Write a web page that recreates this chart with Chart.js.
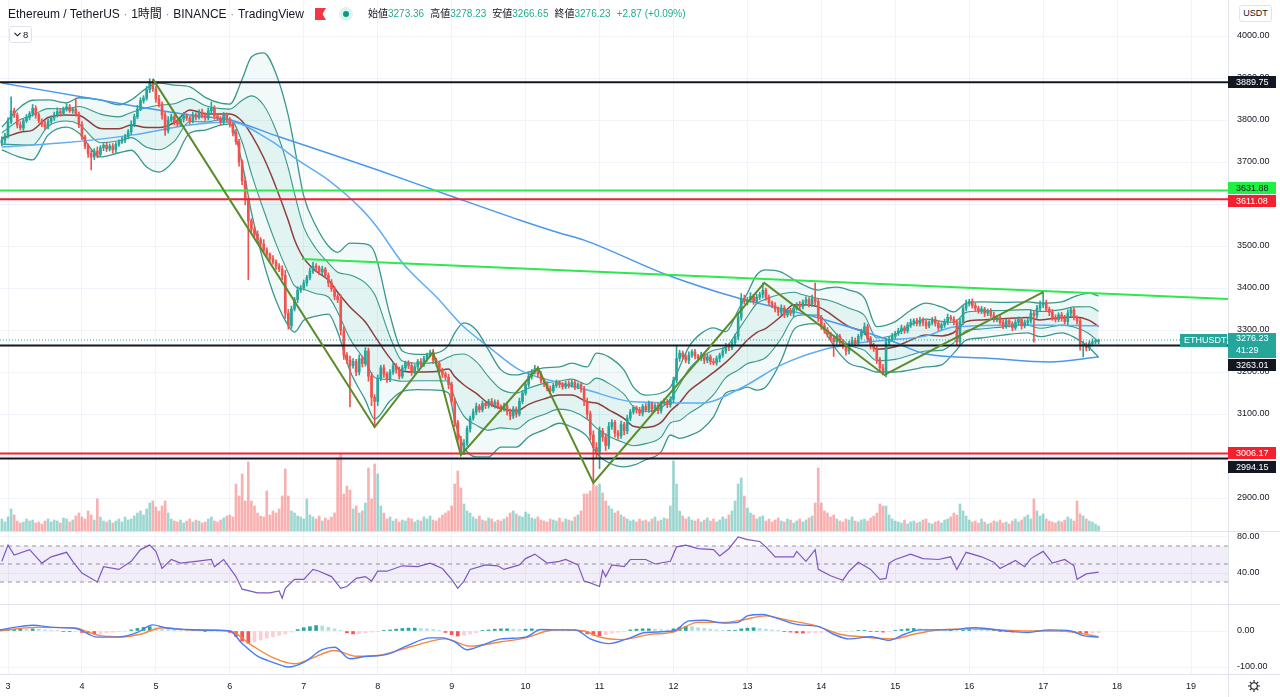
<!DOCTYPE html>
<html lang="ja">
<head>
<meta charset="utf-8">
<title>Ethereum / TetherUS 1時間</title>
<script src="https://cdn.jsdelivr.net/npm/chart.js@4.4.1/dist/chart.umd.min.js"></script>
<style>
  html, body { margin: 0; padding: 0; background: #fff; }
  body { width: 1280px; height: 697px; position: relative; overflow: hidden; color: #131722;
         font-family: "Liberation Sans", Arial, "Noto Sans CJK JP", sans-serif; }
  canvas { position: absolute; left: 0; }
  #main { top: 0; }
  #rsi { top: 532px; }
  #macd { top: 605px; }
  .sep { position: absolute; left: 0; width: 1280px; height: 1px; background: #e0e3eb; }
  .vsep { position: absolute; left: 1228px; top: 674px; width: 1px; height: 23px; background: #e0e3eb; }
  .title { position: absolute; left: 8px; top: 6px; font-size: 12px; line-height: 16px; white-space: nowrap; }
  .title .dot { color: #787b86; margin: 0 4px; font-size: 10px; }
  .flag { position: absolute; left: 315px; top: 8px; }
  .live { position: absolute; left: 338px; top: 6px; }
  .ohlc { position: absolute; left: 368px; top: 8px; font-size: 10px; line-height: 12px; white-space: nowrap; }
  .ohlc span { margin-right: 6px; }
  .ohlc b { font-weight: normal; color: #22ab94; }
  .ind { position: absolute; left: 9px; top: 26px; width: 21px; height: 15px; border: 1px solid #e0e3eb;
         border-radius: 3px; font-size: 9.5px; line-height: 15px; background: #fff; }
  .ind svg { position: absolute; left: 4px; top: 5px; }
  .ind i { position: absolute; left: 13px; top: 0; font-style: normal; }
  .cur { position: absolute; left: 1239px; top: 5px; width: 31px; height: 15px; border: 1px solid #e0e3eb;
         border-radius: 3px; font-size: 9px; line-height: 15px; text-align: center; background: #fff; }
  .gear { position: absolute; left: 1247px; top: 679px; }
</style>
</head>
<body>
<canvas id="main" width="1280" height="531"></canvas>
<canvas id="rsi" width="1280" height="72"></canvas>
<canvas id="macd" width="1280" height="92"></canvas>
<div class="sep" style="top:531px"></div>
<div class="sep" style="top:604px"></div>
<div class="sep" style="top:674px"></div>
<div class="vsep"></div>

<div class="title">Ethereum / TetherUS<span class="dot">·</span>1時間<span class="dot">·</span>BINANCE<span class="dot">·</span>TradingView</div>
<svg class="flag" width="11" height="12" viewBox="0 0 11 12"><path d="M0 0H11L7.5 6L11 12H0Z" fill="#f23645"/></svg>
<svg class="live" width="16" height="16" viewBox="0 0 16 16"><circle cx="8" cy="8" r="7" fill="#dff2ef"/><circle cx="8" cy="8" r="3" fill="#089981"/></svg>
<div class="ohlc"><span>始値<b>3273.36</b></span><span>高値<b>3278.23</b></span><span>安値<b>3266.65</b></span><span>終値<b>3276.23</b></span><b>+2.87 (+0.09%)</b></div>
<div class="ind"><svg width="7" height="5" viewBox="0 0 7 5"><path d="M0.5 0.8L3.5 3.8L6.5 0.8" stroke="#131722" stroke-width="1.1" fill="none"/></svg><i>8</i></div>
<div class="cur">USDT</div>
<svg class="gear" width="14" height="14" viewBox="0 0 14 14"><circle cx="7" cy="7" r="3.3" fill="none" stroke="#131722" stroke-width="1.1"/><path d="M7 1v2.2M7 10.8V13M1 7h2.2M10.8 7H13M2.8 2.8l1.5 1.5M9.7 9.7l1.5 1.5M2.8 11.2l1.5-1.5M9.7 4.3l1.5-1.5" stroke="#131722" stroke-width="1.1"/></svg>

<script>
// hourly candles, hour 0 = day 3 00:00
const firstHour = -2;
const firstOpen = 3745;
const closes = [
  3752, 3762,
  3795, 3822, 3812, 3788, 3781, 3798, 3806, 3815, 3828, 3812, 3798, 3790, 3784, 3796, 3805, 3812, 3820, 3816, 3826, 3831, 3822, 3826, 3814, 3790,
  3760, 3738, 3720, 3712, 3726, 3718, 3734, 3740, 3731, 3738, 3729, 3742, 3748, 3752, 3760, 3772, 3790, 3808, 3826, 3846, 3852, 3872, 3888, 3874,
  3850, 3838, 3812, 3775, 3800, 3808, 3796, 3790, 3802, 3810, 3805, 3798, 3812, 3806, 3818, 3812, 3805, 3822, 3828, 3810, 3804, 3796, 3812, 3800,
  3790, 3770, 3748, 3700, 3655, 3610, 3560, 3540, 3528, 3515, 3505, 3490, 3480, 3470, 3462, 3452, 3445, 3430, 3340, 3310, 3350, 3372, 3395, 3400,
  3412, 3425, 3440, 3452, 3448, 3438, 3445, 3430, 3412, 3398, 3380, 3372, 3300, 3240, 3228, 3215, 3225, 3200, 3232, 3220, 3250, 3190, 3140, 3130,
  3185, 3210, 3195, 3182, 3200, 3215, 3205, 3190, 3210, 3222, 3215, 3200, 3212, 3225, 3218, 3232, 3240, 3246, 3228, 3220, 3205, 3195, 3188, 3170,
  3130, 3080, 3040, 3010, 3030, 3065, 3090, 3105, 3118, 3110, 3125, 3120, 3130, 3122, 3128, 3118, 3112, 3120, 3105, 3095, 3112, 3100, 3130, 3150,
  3170, 3190, 3200, 3208, 3195, 3180, 3172, 3160, 3155, 3168, 3175, 3170, 3165, 3172, 3168, 3175, 3165, 3170, 3160, 3130, 3100, 3050, 3020, 3010,
  3060, 3045, 3025, 3070, 3080, 3055, 3048, 3075, 3060, 3090, 3105, 3115, 3110, 3102, 3118, 3110, 3125, 3112, 3120, 3108, 3126, 3130, 3122, 3135,
  3180, 3232, 3245, 3236, 3228, 3240, 3248, 3238, 3232, 3240, 3228, 3236, 3225, 3222, 3232, 3240, 3250, 3262, 3258, 3270, 3285, 3330, 3375, 3368,
  3372, 3380, 3368, 3378, 3384, 3395, 3378, 3365, 3358, 3350, 3342, 3352, 3336, 3345, 3340, 3352, 3360, 3356, 3366, 3372, 3362, 3375, 3368, 3330,
  3310, 3300, 3290, 3280, 3272, 3285, 3270, 3262, 3250, 3268, 3275, 3270, 3285, 3295, 3308, 3280, 3262, 3255, 3230, 3210, 3200, 3270, 3278, 3285,
  3292, 3298, 3305, 3298, 3312, 3318, 3322, 3315, 3324, 3318, 3310, 3318, 3325, 3316, 3305, 3312, 3320, 3330, 3326, 3318, 3272, 3320, 3352, 3362,
  3368, 3358, 3352, 3345, 3350, 3340, 3345, 3335, 3326, 3330, 3318, 3310, 3322, 3315, 3305, 3318, 3325, 3310, 3318, 3322, 3340, 3335, 3352, 3360,
  3365, 3350, 3342, 3330, 3325, 3336, 3328, 3320, 3340, 3348, 3330, 3322, 3262, 3265, 3258, 3268, 3272, 3273.36, 3276.23
];
// wick length above the body / below the body
const wickUp = [
  8, 6,
  10, 33, 6, 5, 8, 4, 7, 5, 9, 6, 4, 5, 8, 6, 5, 7, 9, 6, 5, 8, 6, 4, 26, 5,
  6, 4, 5, 8, 6, 10, 5, 4, 7, 5, 6, 4, 5, 7, 6, 5, 8, 6, 9, 7, 6, 8, 10, 8,
  6, 9, 5, 7, 8, 6, 4, 5, 6, 8, 5, 4, 7, 5, 6, 8, 5, 7, 15, 6, 5, 4, 6, 5,
  6, 4, 8, 6, 5, 9, 7, 5, 6, 8, 5, 10, 6, 4, 7, 5, 6, 8, 12, 9, 7, 6, 8, 6,
  7, 5, 8, 10, 6, 5, 7, 4, 6, 8, 5, 6, 12, 8, 6, 10, 7, 5, 9, 6, 8, 7, 9, 6,
  8, 6, 7, 5, 6, 8, 5, 7, 6, 4, 5, 8, 6, 5, 7, 6, 5, 6, 8, 5, 6, 4, 5, 7,
  6, 8, 5, 7, 9, 6, 5, 7, 8, 5, 6, 4, 5, 7, 6, 5, 4, 6, 5, 7, 6, 5, 8, 6,
  5, 7, 6, 8, 5, 6, 4, 5, 7, 5, 6, 4, 5, 6, 7, 5, 6, 4, 5, 6, 8, 7, 10, 12,
  9, 6, 8, 10, 7, 5, 6, 8, 5, 7, 6, 5, 4, 6, 5, 7, 6, 4, 5, 6, 5, 7, 5, 6,
  8, 32, 7, 5, 6, 8, 5, 6, 4, 7, 5, 6, 5, 7, 6, 5, 8, 6, 5, 7, 6, 10, 12, 8,
  6, 9, 5, 7, 6, 17, 5, 6, 4, 7, 5, 8, 6, 5, 7, 6, 5, 8, 6, 7, 5, 8, 37, 6,
  5, 7, 6, 5, 8, 6, 5, 7, 6, 5, 8, 6, 5, 7, 9, 6, 5, 7, 6, 5, 8, 10, 6, 7,
  5, 6, 7, 5, 6, 8, 5, 6, 7, 5, 6, 4, 5, 7, 6, 5, 6, 8, 5, 6, 7, 8, 6, 9,
  5, 6, 7, 5, 6, 4, 5, 6, 7, 5, 6, 5, 4, 6, 5, 7, 6, 5, 6, 7, 8, 6, 7, 9,
  25, 6, 5, 7, 6, 5, 6, 7, 8, 6, 5, 4, 6, 8, 5, 6, 7, 5, 2
];
const wickDown = [
  6, 8,
  5, 4, 6, 7, 5, 6, 4, 5, 6, 8, 5, 6, 7, 5, 4, 6, 5, 7, 6, 5, 4, 6, 5, 8,
  7, 6, 9, 31, 6, 8, 5, 7, 6, 5, 8, 6, 5, 4, 6, 5, 7, 6, 5, 4, 6, 5, 7, 6,
  8, 7, 10, 12, 6, 5, 8, 6, 5, 7, 6, 8, 5, 6, 4, 7, 6, 5, 6, 8, 5, 7, 6, 5,
  7, 8, 6, 10, 9, 12, 140, 8, 7, 6, 9, 5, 7, 6, 5, 8, 6, 10, 12, 8, 6, 5, 7, 6,
  5, 7, 6, 5, 8, 6, 7, 5, 9, 6, 8, 7, 12, 10, 8, 98, 6, 9, 7, 8, 6, 12, 20, 61,
  10, 6, 8, 7, 5, 6, 8, 7, 5, 6, 7, 8, 5, 6, 7, 5, 6, 4, 8, 6, 7, 8, 6, 10,
  8, 10, 12, 8, 7, 6, 8, 5, 7, 6, 5, 7, 6, 5, 8, 6, 7, 5, 8, 9, 6, 8, 5, 6,
  5, 6, 7, 5, 8, 6, 7, 5, 6, 4, 5, 7, 6, 5, 6, 4, 7, 5, 8, 10, 12, 12, 84, 15,
  40, 10, 12, 8, 7, 10, 8, 6, 9, 7, 6, 5, 8, 6, 7, 5, 6, 8, 5, 7, 6, 5, 7, 6,
  8, 6, 7, 5, 6, 8, 5, 7, 6, 5, 8, 6, 7, 5, 6, 8, 5, 6, 7, 5, 6, 8, 7, 6,
  8, 6, 7, 5, 6, 8, 7, 6, 5, 7, 8, 6, 7, 5, 6, 8, 5, 7, 6, 5, 7, 6, 8, 10,
  9, 8, 7, 6, 35, 7, 8, 6, 10, 7, 6, 8, 5, 7, 6, 8, 7, 6, 10, 8, 7, 12, 6, 5,
  6, 5, 7, 6, 5, 6, 7, 5, 6, 8, 7, 5, 6, 7, 6, 5, 6, 7, 5, 6, 8, 10, 7, 6,
  5, 6, 7, 5, 6, 8, 6, 5, 7, 6, 5, 7, 6, 8, 7, 5, 6, 8, 5, 7, 6, 64, 7, 6,
  7, 6, 8, 7, 6, 5, 7, 6, 8, 7, 6, 8, 10, 26, 8, 7, 6, 5, 6.71
];
// volume, thousand ETH
const volumes = [
  12, 9,
  14, 22, 16, 10, 8, 9, 12, 10, 11, 8, 9, 7, 10, 12, 9, 11, 10, 8, 13, 12, 9, 11, 15, 18,
  14, 12, 20, 16, 11, 32, 14, 10, 9, 11, 8, 10, 12, 9, 14, 11, 12, 15, 18, 20, 16, 22, 28, 30,
  24, 20, 25, 30, 18, 12, 10, 9, 11, 8, 10, 12, 9, 11, 10, 8, 9, 12, 14, 10, 9, 11, 13, 15,
  16, 14, 47, 35, 57, 30, 69, 30, 25, 18, 15, 14, 40, 16, 20, 18, 22, 35, 62, 35, 20, 18, 15, 14,
  12, 32, 16, 14, 12, 15, 10, 13, 11, 14, 18, 73, 77, 37, 45, 41, 22, 25, 18, 20, 28, 63, 32, 67,
  57, 25, 18, 12, 14, 10, 12, 9, 11, 10, 13, 12, 9, 11, 10, 14, 12, 15, 11, 10, 13, 16, 18, 20,
  25, 47, 60, 43, 27, 20, 18, 14, 12, 15, 11, 10, 13, 12, 9, 11, 10, 12, 14, 18, 20, 17, 15, 14,
  19, 17, 13, 12, 14, 11, 10, 9, 12, 11, 10, 13, 9, 12, 11, 10, 14, 16, 20, 37, 37, 40, 47, 45,
  47, 38, 30, 25, 22, 18, 20, 16, 14, 12, 10, 11, 9, 12, 10, 11, 9, 12, 14, 10, 11, 13, 12, 25,
  70, 47, 20, 15, 12, 14, 11, 10, 12, 9, 11, 13, 10, 12, 9, 11, 14, 12, 16, 20, 30, 47, 53, 35,
  23, 18, 16, 12, 14, 15, 10, 12, 9, 11, 13, 10, 9, 12, 11, 8, 10, 12, 9, 11, 13, 15, 28, 63,
  28, 20, 18, 14, 16, 12, 10, 9, 12, 11, 14, 10, 9, 11, 12, 10, 13, 15, 18, 27, 25, 25, 16, 12,
  10, 9, 8, 11, 7, 9, 10, 8, 9, 11, 12, 8, 7, 9, 10, 8, 11, 12, 14, 18, 16, 27, 20, 15,
  11, 9, 10, 8, 12, 9, 7, 8, 10, 9, 11, 8, 9, 7, 10, 12, 9, 11, 14, 16, 12, 32, 20, 15,
  17, 12, 10, 9, 8, 10, 9, 11, 14, 12, 10, 30, 17, 15, 12, 10, 9, 7, 5
];

// Bollinger band basis and 2-sigma distance
const bbHours = [-2, 4, 8, 13, 19, 23, 30, 36, 40, 45, 49, 54, 59, 64, 69, 72, 76, 79, 83, 87,
  91, 93, 96, 100, 104, 107, 111, 116, 119, 124, 128, 133, 139, 143, 145, 148, 152, 156, 160, 165,
  169, 174, 179, 183, 188, 191, 195, 200, 203, 207, 212, 215, 218, 221, 225, 229, 233, 237, 240, 243,
  246, 251, 255, 258, 263, 266, 269, 273, 278, 282, 288, 293, 298, 303, 307, 311, 316, 323, 331, 335,
  342, 346, 351, 354];
const bbMid = [3756, 3771, 3776, 3806, 3812, 3811, 3780, 3779, 3788, 3782, 3782, 3794, 3824, 3815, 3814, 3814, 3797, 3765, 3710, 3640,
  3560, 3515, 3471, 3440, 3419, 3390, 3355, 3319, 3286, 3233, 3202, 3200, 3201, 3207, 3189, 3169, 3149, 3125, 3113, 3107,
  3123, 3136, 3145, 3145, 3129, 3126, 3110, 3089, 3071, 3068, 3080, 3107, 3127, 3154, 3177, 3199, 3223, 3252, 3276, 3294,
  3304, 3333, 3360, 3360, 3355, 3343, 3327, 3308, 3293, 3254, 3260, 3276, 3288, 3286, 3294, 3320, 3324, 3327, 3330, 3324,
  3330, 3331, 3323, 3308];
const bbWidth = [27, 60, 71, 42, 29, 42, 68, 57, 60, 94, 106, 89, 55, 39, 26, 24, 100, 185, 250, 270,
  250, 220, 148, 107, 81, 95, 152, 186, 198, 102, 48, 42, 44, 57, 104, 148, 151, 127, 92, 86,
  77, 74, 67, 76, 83, 119, 126, 115, 93, 77, 70, 57, 85, 106, 115, 106, 73, 95, 112, 137,
  139, 105, 60, 48, 40, 57, 75, 87, 83, 54, 60, 71, 76, 69, 49, 44, 43, 39, 37, 40,
  37, 48, 65, 73];

// moving averages
const ma100Hours = [-2, 17, 40, 59, 72, 85, 94, 104, 115, 120, 128, 139, 148, 156, 166, 179, 188, 203, 225, 238, 251, 264, 276, 286, 298, 307, 331, 354];
const ma100Values = [3736, 3745, 3764, 3788, 3795, 3752, 3705, 3657, 3586, 3543, 3460, 3379, 3307, 3260, 3205, 3174, 3157, 3129, 3126, 3162, 3217, 3252, 3269, 3276, 3286, 3307, 3312, 3310];
const ma200Hours = [-2, 28, 59, 72, 88, 104, 120, 143, 166, 179, 187, 214, 237, 262, 286, 298, 318, 338, 354];
const ma200Values = [3888, 3850, 3812, 3800, 3760, 3721, 3681, 3621, 3562, 3531, 3514, 3431, 3376, 3331, 3276, 3243, 3233, 3224, 3236];

// drawings
const zigHours = [47, 119, 138, 147, 172, 190, 245.5, 284.5, 336];
const zigValues = [3898, 3069, 3248, 3002, 3210, 2936, 3412, 3193, 3390];
const trendHours = [95.4, 396];
const trendValues = [3469, 3374];
const blackLevels = [3889.75, 3263.01, 2994.15];
const greenLevels = [3631.88];
const redLevels = [3611.08, 3006.17];

// RSI 14
const rsiHours = [-2, 0, 2, 7, 11, 14, 19, 21, 24, 29, 31, 36, 40, 43, 46, 48, 50, 53, 56, 61,
  66, 67, 70, 74, 76, 81, 85, 88, 89, 90, 93, 96, 99, 101, 105, 108, 110, 113, 116, 118,
  120, 123, 128, 133, 137, 141, 144, 146, 148, 150, 155, 159, 161, 166, 168, 171, 175, 179, 181, 185,
  187, 189, 192, 193, 194, 196, 200, 202, 207, 210, 215, 217, 220, 224, 229, 231, 234, 237, 240, 244,
  246, 249, 255, 256, 259, 262, 263, 267, 271, 273, 276, 280, 283, 285, 286, 288, 293, 297, 302, 306,
  308, 311, 316, 320, 322, 327, 330, 332, 336, 339, 343, 346, 347, 350, 354];
const rsiValues = [53, 71, 60, 66, 51, 58, 63, 53, 40, 30, 47, 44, 53, 66, 71, 64, 45, 55, 51, 53,
  55, 47, 55, 36, 22, 18, 18, 20, 12, 23, 33, 33, 44, 42, 36, 23, 25, 34, 36, 31,
  42, 42, 48, 47, 51, 45, 33, 23, 31, 44, 49, 48, 44, 49, 56, 61, 51, 53, 55, 49,
  31, 29, 25, 43, 36, 49, 47, 55, 55, 50, 53, 69, 71, 67, 66, 59, 67, 80, 77, 75,
  69, 58, 58, 64, 53, 66, 44, 37, 32, 42, 52, 44, 33, 34, 51, 55, 61, 56, 55, 58,
  44, 63, 58, 52, 45, 54, 47, 56, 64, 51, 55, 48, 33, 39, 41];
const rsiBands = [70, 50, 30];

// MACD 12 26 9
const macdHours = [-3, 2, 8, 15, 22, 29, 36, 42, 47, 51, 58, 67, 72, 76, 81, 86, 91, 96, 102, 106,
  111, 116, 123, 130, 137, 141, 145, 149, 154, 160, 168, 173, 178, 184, 189, 193, 195, 201, 207, 216,
  221, 226, 232, 237, 240, 245, 249, 257, 263, 268, 273, 280, 286, 291, 296, 305, 314, 324, 331, 338,
  345, 349, 354];
const macdValues = [2, 10, 16, 10, 7, -17, -17, -4, 17, 9, 4, 2, 0, -35, -70, -87, -100, -87, -52, -45,
  -77, -71, -65, -39, -19, -19, -30, -52, -39, -22, -17, 4, 3, 3, -22, -33, -35, -22, -4, 0,
  28, 30, 22, 24, 42, 46, 37, 17, 13, -9, -22, -16, -26, -9, 3, 3, 9, 0, -4, 3,
  0, -13, -17];
const signalHours = [-3, 9, 21, 30, 37, 43, 50, 59, 72, 79, 86, 93, 98, 106, 113, 120, 131, 142, 150, 160,
  168, 175, 179, 187, 192, 199, 208, 216, 224, 232, 238, 246, 253, 262, 270, 277, 287, 294, 301, 312,
  322, 332, 342, 351, 354];
const signalValues = [0, 10, 9, -13, -16, -9, 9, 3, 0, -39, -74, -91, -78, -54, -70, -68, -43, -22, -42, -30,
  -19, 0, 3, 0, -17, -24, -10, -3, 24, 24, 30, 42, 30, 15, -9, -16, -22, -9, 2, 6,
  3, 0, 0, -11, -16];
// histogram every 2 hours from hour -2
const histValues = [3, 4, 5, 6, 5, 6, 5, 3, 2, 1,
  -1, -2, -2, -4, -6, -8, -8, -5, -3, -2,
  -1, 3, 7, 10, 12, 9, 6, 4, 3, 2,
  1, 1, 1, -1, -1, -1, -1, -4, -15, -28,
  -34, -30, -25, -20, -16, -12, -8, -3, 4, 9,
  12, 15, 14, 10, 6, 2, -5, -8, -7, -5,
  -3, -1, 1, 3, 5, 7, 8, 8, 7, 6,
  4, 2, -4, -10, -14, -12, -8, -5, 1, 3,
  5, 6, 6, 5, 4, 5, 6, 5, 4, 3,
  2, 1, 1, 1, -2, -8, -12, -13, -10, -6,
  -3, -1, 3, 5, 6, 6, 5, 4, 3, 6,
  10, 13, 12, 9, 7, 5, 3, 1, 1, 2,
  6, 8, 9, 7, 5, 3, 1, -1, -3, -5,
  -6, -6, -5, -4, -3, -2, -1, -1, -1, 1,
  1, -1, -2, -3, -2, 2, 4, 6, 7, 6,
  5, 4, 3, 2, 2, 1, 3, 4, 3, 2,
  1, 1, -1, -2, -3, -3, -2, -1, 1, 2,
  2, 1, -1, -1, -2, -5, -6, -5, -4];

const dayLabels = ['3', '4', '5', '6', '7', '8', '9', '10', '11', '12', '13', '14', '15', '16', '17', '18', '19'];
const priceTicks = [2900, 3000, 3100, 3200, 3300, 3400, 3500, 3600, 3700, 3800, 3900, 4000];
const rsiTicks = [80, 40];
const macdTicks = [0, -100];
const symbolName = 'ETHUSDT';
const barCountdown = '41:29';

// ---- chart setup ----
Chart.defaults.font.family = '"Liberation Sans", Arial, sans-serif';
Chart.defaults.font.size = 9;
Chart.defaults.color = '#131722';

const xMin = -2.6;
const xMax = 396;
const gridColor = '#f0f3fa';
const axisColor = '#e0e3eb';
const green = '#26a69a';
const red = '#ef5350';
const bandColor = '#3a978b';

function series(hours, values) {
    return values.map((v, i) => ({ x: hours[i], y: v }));
}
function flat(v) {
    return [{ x: xMin, y: v }, { x: xMax, y: v }];
}
function dayTicks(scale) {
    scale.ticks = dayLabels.map((d, i) => ({ value: i * 24 }));
}
function fixedTicks(values) {
    return function (scale) {
        scale.ticks = values.map(v => ({ value: v }));
    };
}
function rightAxisWidth(scale) {
    scale.width = 52;
    scale.paddingTop = 0;
    scale.paddingBottom = 0;
}
function bottomAxisHeight(h) {
    return function (scale) {
        scale.height = h;
        scale.paddingLeft = 0;
        scale.paddingRight = 0;
    };
}
function xScale(showLabels) {
    return {
        type: 'linear', min: xMin, max: xMax, offset: false,
        afterBuildTicks: dayTicks,
        afterFit: bottomAxisHeight(showLabels ? 23 : 0),
        ticks: showLabels
            ? { display: true, autoSkip: false, maxRotation: 0, padding: 7, callback: (v, i) => dayLabels[i] }
            : { display: false },
        grid: { color: gridColor, drawTicks: false, offset: false },
        border: { display: false }
    };
}
function yScale(min, max, ticks) {
    return {
        position: 'right', min: min, max: max,
        afterBuildTicks: fixedTicks(ticks),
        afterFit: rightAxisWidth,
        ticks: { padding: 9, callback: v => Number(v).toFixed(2) },
        grid: { color: gridColor, drawTicks: false },
        border: { display: true, color: axisColor }
    };
}
const baseOptions = {
    responsive: false,
    animation: false,
    events: [],
    layout: { padding: 0, autoPadding: false },
    plugins: { legend: { display: false }, tooltip: { enabled: false } }
};
const lineBase = { type: 'line', pointRadius: 0, borderWidth: 1.5, fill: false };

const lastClose = closes[closes.length - 1];

const tagPlugin = {
    id: 'priceTags',
    afterDraw(chart) {
        const ctx = chart.ctx;
        const y = chart.scales.y;
        const x0 = chart.chartArea.right;
        ctx.save();
        ctx.font = '9px "Liberation Sans", Arial, sans-serif';
        ctx.textBaseline = 'middle';
        function tag(value, bg, fg, shift) {
            const cy = Math.round(y.getPixelForValue(value) + shift);
            ctx.fillStyle = bg;
            ctx.fillRect(x0, cy - 6, 48, 12);
            ctx.fillStyle = fg;
            ctx.fillText(value.toFixed(2), x0 + 8, cy + 0.5);
        }
        tag(blackLevels[0], '#131722', '#ffffff', 0);
        tag(greenLevels[0], '#22ef46', '#131722', -3);
        tag(redLevels[0], '#f5202e', '#ffffff', 1.5);
        tag(redLevels[1], '#f5202e', '#ffffff', 0);
        tag(blackLevels[2], '#131722', '#ffffff', 8.5);
        tag(blackLevels[1], '#131722', '#ffffff', 19.5);

        const py = Math.round(y.getPixelForValue(lastClose));
        ctx.fillStyle = green;
        ctx.fillRect(x0, py - 7, 48, 25);
        ctx.fillRect(x0 - 48, py - 6, 47, 13);
        ctx.fillStyle = '#ffffff';
        ctx.fillText(lastClose.toFixed(2), x0 + 8, py - 1);
        ctx.fillText(barCountdown, x0 + 8, py + 11);
        ctx.fillText(symbolName, x0 - 44, py + 0.5);
        ctx.restore();
    }
};

function mainChart() {
    const hours = closes.map((c, i) => firstHour + i);
    const opens = closes.map((c, i) => i === 0 ? firstOpen : closes[i - 1]);
    const colors = closes.map((c, i) => c >= opens[i] ? green : red);
    const volColors = closes.map((c, i) => c >= opens[i] ? 'rgba(38,166,154,0.45)' : 'rgba(239,83,80,0.45)');
    const bodies = closes.map((c, i) => ({ x: hours[i], y: [opens[i], c] }));
    const wicks = closes.map((c, i) => ({
        x: hours[i],
        y: [Math.min(opens[i], c) - (wickDown[i] || 0), Math.max(opens[i], c) + (wickUp[i] || 0)]
    }));
    const vols = volumes.map((v, i) => ({ x: hours[i], y: v }));
    const upper2 = series(bbHours, bbMid.map((m, i) => m + bbWidth[i]));
    const lower2 = series(bbHours, bbMid.map((m, i) => m - bbWidth[i]));
    const upper1 = series(bbHours, bbMid.map((m, i) => m + bbWidth[i] / 2));
    const lower1 = series(bbHours, bbMid.map((m, i) => m - bbWidth[i] / 2));
    const smooth = { cubicInterpolationMode: 'monotone' };

    const ctx = document.getElementById('main').getContext('2d');
    new Chart(ctx, {
        type: 'bar',
        data: {
            datasets: [
                { ...lineBase, data: series(zigHours, zigValues), borderColor: '#5b8c2a', borderWidth: 2, order: 1 },
                { ...lineBase, data: series(trendHours, trendValues), borderColor: '#2ee84c', borderWidth: 2, order: 2 },
                ...blackLevels.map(v => ({ ...lineBase, data: flat(v), borderColor: '#131722', borderWidth: 2, order: 2 })),
                ...greenLevels.map(v => ({ ...lineBase, data: flat(v), borderColor: '#2ee84c', borderWidth: 2, order: 2 })),
                ...redLevels.map(v => ({ ...lineBase, data: flat(v), borderColor: '#f2202e', borderWidth: 2, order: 2 })),
                { ...lineBase, data: flat(lastClose), borderColor: green, borderWidth: 1, borderDash: [1, 2], order: 3 },
                { type: 'bar', data: bodies, backgroundColor: colors, barThickness: 2, minBarLength: 1, grouped: false, order: 4 },
                { type: 'bar', data: wicks, backgroundColor: colors, barThickness: 1, grouped: false, order: 5 },
                { ...lineBase, ...smooth, data: series(ma100Hours, ma100Values), borderColor: '#5fadf5', order: 6 },
                { ...lineBase, ...smooth, data: series(ma200Hours, ma200Values), borderColor: '#4a98ee', order: 6 },
                { ...lineBase, ...smooth, data: series(bbHours, bbMid), borderColor: '#8d3f3f', order: 7 },
                { ...lineBase, ...smooth, data: upper2, borderColor: bandColor, borderWidth: 1.3, order: 8 },
                { ...lineBase, ...smooth, data: lower2, borderColor: bandColor, borderWidth: 1.3, fill: '-1', backgroundColor: 'rgba(38,166,154,0.06)', order: 8 },
                { ...lineBase, ...smooth, data: upper1, borderColor: bandColor, borderWidth: 1.1, order: 9 },
                { ...lineBase, ...smooth, data: lower1, borderColor: bandColor, borderWidth: 1.1, fill: '-1', backgroundColor: 'rgba(38,166,154,0.08)', order: 9 },
                { type: 'bar', yAxisID: 'yv', data: vols, backgroundColor: volColors, barThickness: 2, grouped: false, order: 12 }
            ]
        },
        options: {
            ...baseOptions,
            scales: {
                x: xScale(false),
                y: yScale(4000 - 495 / 0.42, 4000 + 36 / 0.42, priceTicks),
                yv: { display: false, min: 0, max: 531 }
            }
        },
        plugins: [tagPlugin]
    });
}

function rsiChart() {
    const ctx = document.getElementById('rsi').getContext('2d');
    const dashed = { ...lineBase, borderColor: '#9598a1', borderWidth: 1, borderDash: [4, 4], order: 2 };
    new Chart(ctx, {
        type: 'line',
        data: {
            datasets: [
                { ...lineBase, data: series(rsiHours, rsiValues), borderColor: '#7e57c2', borderWidth: 1.2, order: 1 },
                { ...dashed, data: flat(rsiBands[0]) },
                { ...dashed, data: flat(rsiBands[2]), fill: '-1', backgroundColor: 'rgba(126,87,194,0.1)' },
                { ...dashed, data: flat(rsiBands[1]) }
            ]
        },
        options: {
            ...baseOptions,
            scales: {
                x: xScale(false),
                y: yScale(80 - 67 / 0.9, 80 + 5 / 0.9, rsiTicks)
            }
        }
    });
}

function macdChart() {
    const histHours = histValues.map((v, i) => firstHour + i * 2);
    const histColors = histValues.map((v, i) => {
        const prev = i > 0 ? histValues[i - 1] : v;
        if (v >= 0) return v >= prev ? '#26a69a' : '#b2dfdb';
        return v < prev ? '#ff5252' : '#ffcdd2';
    });
    const ctx = document.getElementById('macd').getContext('2d');
    new Chart(ctx, {
        type: 'bar',
        data: {
            datasets: [
                { ...lineBase, cubicInterpolationMode: 'monotone', data: series(macdHours, macdValues), borderColor: '#4a7bf7', borderWidth: 1.4, order: 1 },
                { ...lineBase, cubicInterpolationMode: 'monotone', data: series(signalHours, signalValues), borderColor: '#f8873a', borderWidth: 1.4, order: 2 },
                { type: 'bar', data: series(histHours, histValues), backgroundColor: histColors, barThickness: 3, grouped: false, order: 3 }
            ]
        },
        options: {
            ...baseOptions,
            scales: {
                x: xScale(true),
                y: yScale(-43 / 0.36, 26 / 0.36, macdTicks)
            }
        }
    });
}

mainChart();
rsiChart();
macdChart();
</script>
</body>
</html>
